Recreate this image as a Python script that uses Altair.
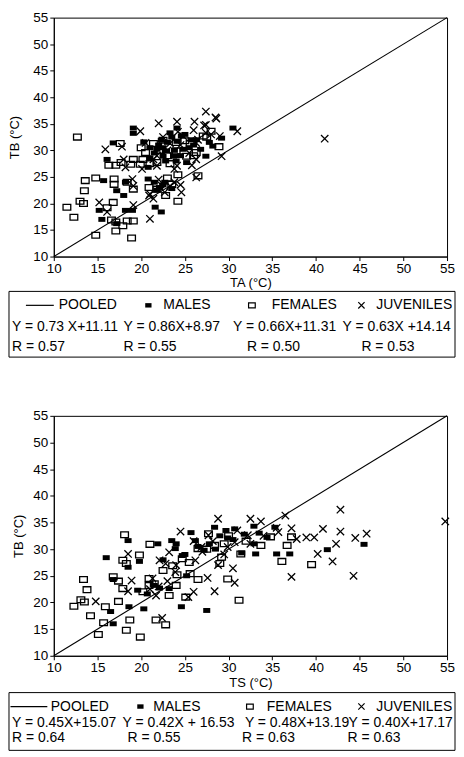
import altair as alt
import pandas as pd

# ---------------- Panel A : TB vs TA ----------------
a_male_x = [16.8, 19.1, 19.1, 16.1, 15.7, 15.2, 15.5, 17.2, 17.2, 18.2, 18.0, 18.2, 19.0, 20.8, 20.8,
            21.6, 22.3, 22.1, 22.7, 21.0, 21.8, 23.3, 24.1, 24.1, 24.8, 22.9, 25.2, 26.3, 27.4, 28.2,
            29.2, 30.5, 23.7, 22.5, 25.7, 24.6, 20.3, 22.3,
            22.5, 23.0, 23.8, 24.5, 25.5, 21.5, 22.0, 23.5, 26.0, 26.8, 24.0, 21.0, 22.8, 25.0, 27.8,
            21.8, 22.5, 23.5, 21.5]
a_male_y = [31.4, 34.2, 33.2, 28.3, 24.3, 18.7, 17.0, 16.2, 22.4, 24.0, 21.5, 18.7, 18.7, 26.8, 24.6,
            19.3, 18.4, 23.0, 24.0, 28.6, 30.2, 33.3, 34.2, 31.7, 30.2, 29.9, 27.7, 32.0, 28.9, 30.8,
            32.3, 34.2, 28.9, 28.9, 32.0, 32.7, 31.6, 31.9,
            30.5, 31.5, 30.0, 29.0, 30.5, 29.5, 31.0, 32.5, 31.0, 30.2, 28.0, 30.5, 28.0, 33.0, 31.5,
            22.5, 23.5, 22.8, 24.0]
a_fem_x = [12.7, 14.8, 13.6, 13.5, 13.0, 13.4, 11.5, 12.3, 14.8, 16.9, 16.9, 17.1, 16.3, 16.8, 16.1,
           16.6, 17.1, 17.1, 17.9, 18.4, 19.1, 18.9, 17.6, 18.8, 17.7, 19.1, 18.4, 19.1, 20.2, 20.5,
           19.9, 21.8, 23.3, 24.0, 25.2, 24.2, 24.2, 26.5, 26.3, 28.0, 28.9, 22.5, 21.4, 21.8, 23.5,
           25.6, 27.1, 20.9,
           22.0, 24.0, 25.0, 26.0, 23.0, 27.5, 21.0, 20.0, 22.8, 23.0]
a_fem_y = [32.5, 24.8, 24.3, 22.4, 20.4, 20.0, 19.3, 17.4, 14.0, 24.6, 23.6, 27.2, 27.2, 20.2, 19.2,
           16.9, 14.8, 16.5, 15.8, 16.7, 16.7, 13.5, 31.3, 27.4, 27.7, 28.3, 24.0, 22.7, 28.3, 29.6,
           27.4, 27.7, 27.5, 29.9, 28.9, 25.4, 20.4, 25.2, 29.6, 33.6, 30.7, 31.9, 31.3, 22.7, 23.6,
           31.3, 32.7, 23.0,
           30.0, 31.5, 31.8, 29.0, 29.0, 32.5, 27.5, 30.5, 21.5, 24.8]
a_juv_x = [15.9, 15.2, 16.1, 17.8, 18.0, 18.2, 19.0, 19.1, 19.9, 20.1, 21.0, 22.0, 24.1, 26.1, 27.4,
           27.4, 28.5, 29.0, 29.2, 31.0, 24.6, 26.3, 41.0, 22.7, 23.3, 21.4, 23.3, 24.8, 26.3, 27.4,
           21.4, 20.5, 21.8, 24.1, 20.9, 22.2, 26.3, 19.1,
           28.6, 27.2, 26.0, 23.0, 24.5, 25.5, 22.5, 26.5, 21.8, 24.2, 28.0, 23.8, 25.8,
           22.0, 23.8, 21.0, 24.5]
a_juv_y = [30.2, 20.2, 18.4, 30.7, 28.3, 26.8, 24.6, 19.7, 33.6, 26.5, 17.1, 35.1, 35.4, 35.4, 37.3,
           34.8, 36.2, 32.7, 28.9, 33.6, 22.1, 24.9, 32.2, 22.1, 23.3, 20.9, 31.3, 32.7, 31.4, 33.3,
           28.3, 31.4, 27.1, 27.1, 21.5, 23.6, 28.3, 23.3,
           36.0, 34.7, 33.8, 30.0, 31.0, 29.5, 32.5, 32.0, 29.0, 33.5, 33.0, 26.5, 27.2,
           24.5, 24.0, 21.8, 23.5]

# ---------------- Panel B : TB vs TS ----------------
b_male_x = [18.5, 18.5, 16.0, 19.8, 21.9, 16.8, 16.5, 16.8, 18.6, 19.6, 20.3, 20.7, 21.5, 22.1, 23.2,
            24.6, 27.5, 23.5, 24.7, 25.2, 25.7, 26.2, 27.2, 28.4, 29.7, 29.9, 31.5, 32.9, 32.9, 33.1,
            34.4, 35.3, 35.5, 37.0, 41.3, 45.5, 23.9, 30.7,
            26.5, 27.8, 29.0, 30.5, 31.8, 25.0, 24.0, 28.5, 33.5, 22.5]
b_male_y = [31.6, 26.6, 28.4, 27.7, 31.0, 24.3, 18.3, 16.0, 19.2, 22.3, 18.8, 21.6, 23.2, 22.7, 22.6,
            19.2, 18.5, 31.6, 28.8, 25.0, 33.1, 31.6, 29.8, 34.1, 33.5, 32.1, 29.3, 34.3, 31.0, 29.1,
            32.2, 34.1, 29.1, 29.1, 29.9, 30.9, 30.1, 33.8,
            30.5, 31.0, 32.5, 31.8, 32.8, 29.0, 31.0, 30.0, 33.0, 28.0]
b_fem_x = [18.1, 17.9, 18.3, 19.8, 21.0, 16.8, 17.4, 13.4, 13.8, 13.1, 13.5, 12.3, 14.2, 15.9, 17.4,
           17.9, 15.7, 15.1, 18.3, 18.7, 19.9, 21.7, 22.8, 20.9, 20.9, 20.2, 23.6, 24.1, 24.0, 25.1,
           23.2, 26.5, 25.6, 29.2, 29.0, 29.9, 31.2, 31.4, 36.1, 36.7, 39.5, 37.2, 27.7, 26.5, 28.4,
           24.7, 33.7, 34.8,
           27.5, 30.0, 32.0, 25.5, 21.5, 22.5, 29.5]
b_fem_y = [32.7, 27.9, 27.3, 28.9, 30.9, 24.8, 24.0, 24.3, 22.4, 20.5, 20.1, 19.3, 17.5, 19.2, 20.2,
           22.6, 16.2, 14.0, 14.8, 16.7, 13.5, 16.7, 15.8, 24.5, 23.2, 22.0, 26.9, 25.2, 23.2, 21.0,
           21.3, 24.3, 25.4, 28.5, 27.3, 24.4, 20.4, 29.1, 27.7, 30.7, 27.1, 32.3, 32.9, 30.1, 30.7,
           28.2, 30.7, 32.3,
           30.0, 32.5, 31.5, 27.5, 23.5, 26.0, 31.0]
b_juv_x = [14.8, 18.5, 18.9, 18.5, 22.1, 21.7, 22.4, 22.8, 24.5, 23.2, 26.0, 25.4, 26.2, 27.6, 28.4,
           28.8, 28.8, 30.5, 30.7, 32.5, 33.7, 36.5, 37.2, 37.2, 35.7, 37.8, 38.9, 39.8, 40.2, 40.8,
           41.9, 42.3, 42.8, 42.8, 44.5, 44.3, 45.8, 54.8, 30.7, 32.2, 27.7, 26.9, 29.9, 23.9, 21.3,
           27.0, 28.2, 29.5, 31.0, 32.5, 34.0, 35.5, 26.0, 24.0, 22.0, 21.0, 23.0]
b_juv_y = [20.2, 29.1, 24.1, 22.1, 27.9, 21.3, 17.1, 27.3, 33.3, 29.4, 22.0, 21.0, 27.9, 24.6, 22.1,
           35.7, 27.0, 26.4, 23.7, 35.7, 35.2, 36.3, 33.9, 24.8, 33.2, 31.9, 32.2, 32.2, 29.1, 33.8,
           27.7, 31.0, 37.4, 33.3, 32.1, 25.0, 32.9, 35.2, 31.3, 32.6, 32.6, 30.4, 30.4, 25.7, 24.5,
           29.5, 31.5, 29.0, 33.5, 31.0, 32.5, 34.0, 31.5, 27.0, 23.0, 22.5, 24.0]

AXIS_TICKS = [10, 15, 20, 25, 30, 35, 40, 45, 50, 55]
GROUP_LABELS = ["POOLED", "MALES", "FEMALES", "JUVENILES"]
A_EQS = ["Y = 0.73 X+11.11", "Y = 0.86X+8.97", "Y = 0.66X+11.31", "Y = 0.63X +14.14"]
A_RS = ["R = 0.57", "R = 0.55", "R = 0.50", "R = 0.53"]
B_EQS = ["Y = 0.45X+15.07", "Y = 0.42X + 16.53", "Y = 0.48X+13.19", "Y = 0.40X+17.17"]
B_RS = ["R = 0.64", "R = 0.55", "R = 0.63", "R = 0.63"]

# ---------------- styles / layout ----------------
FONT = "Liberation Sans"
SQ_FILLED = "M-1,-0.7H1V0.7H-1Z"
SQ_OPEN = "M-1,-0.75H1V0.75H-1Z"
XMARK = "M-1,-1L1,1M-1,1L1,-1"
HLINE = "M-1,0H1"
BOX_LEFT = -45      # legend frame reaches left past the plot origin, to the page margin
BOX_RIGHT = 403


def scatter(mx, my, fx, fy, jx, jy, xtitle, w, h, ypad):
    df = pd.DataFrame({
        "x": mx + fx + jx,
        "y": my + fy + jy,
        "g": ["M"] * len(mx) + ["F"] * len(fx) + ["J"] * len(jx),
    })
    diag_df = pd.DataFrame({"x": [AXIS_TICKS[0], AXIS_TICKS[-1]], "y": [AXIS_TICKS[0], AXIS_TICKS[-1]]})
    xs = alt.Scale(domain=[10, 55], nice=False, zero=False)
    ys = alt.Scale(domain=[10, 55], nice=False, zero=False)
    common = dict(grid=False, domainColor="black", tickColor="black", tickSize=4,
                  labelFont=FONT, labelFontSize=13.5, labelColor="black",
                  titleFont=FONT, titleFontSize=13, titleFontWeight="normal", titleColor="black",
                  labelFlush=False)
    xax = alt.Axis(values=AXIS_TICKS, title=xtitle, labelPadding=1, titlePadding=2, **common)
    yax = alt.Axis(values=AXIS_TICKS, title="TB (°C)", labelPadding=2, titlePadding=ypad, **common)
    X = alt.X("x:Q", scale=xs, axis=xax)
    Y = alt.Y("y:Q", scale=ys, axis=yax)
    base = alt.Chart(df)
    diag = alt.Chart(diag_df).mark_line(color="black", strokeWidth=1.1).encode(x=X, y=Y)
    fem = base.transform_filter(alt.datum.g == "F").mark_point(
        shape=SQ_OPEN, filled=False, color="black", strokeWidth=1.3, size=60, opacity=1).encode(x=X, y=Y)
    juv = base.transform_filter(alt.datum.g == "J").mark_point(
        shape=XMARK, filled=False, color="black", strokeWidth=1.3, size=55, opacity=1).encode(x=X, y=Y)
    male = base.transform_filter(alt.datum.g == "M").mark_point(
        shape=SQ_FILLED, filled=True, color="black", size=50, opacity=1).encode(x=X, y=Y)
    return alt.layer(diag, fem, juv, male).properties(
        width=w, height=h, view=alt.ViewBackground(stroke="black", strokeWidth=1))


def legend(eqs, rs, sym_x, line_len, lab_x, eq_x, r_x, row_y, h):
    cols = [0, 1, 2, 3]
    ys = alt.Scale(domain=[0, 1, 2], range=row_y)

    def Yr():
        return alt.Y("r:Q", scale=ys, axis=None)

    def xq(rng):
        return alt.X("c:Q", scale=alt.Scale(domain=cols, range=rng), axis=None)

    sym_df = pd.DataFrame({"c": cols, "r": [0, 0, 0, 0], "k": ["P", "M", "F", "J"]})
    lab_df = pd.DataFrame({"c": cols, "r": [0, 0, 0, 0], "t": GROUP_LABELS})
    eq_df = pd.DataFrame({"c": cols, "r": [1, 1, 1, 1], "t": eqs})
    r_df = pd.DataFrame({"c": cols, "r": [2, 2, 2, 2], "t": rs})

    frame = alt.Chart(pd.DataFrame({"k": ["box"]})).mark_rect(
        fill="white", fillOpacity=0, stroke="black", strokeWidth=1
    ).encode(x=alt.value(BOX_LEFT), x2=alt.value(BOX_RIGHT), y=alt.value(0), y2=alt.value(h))

    txt = dict(align="left", baseline="middle", font=FONT, fontSize=14, color="black")
    line = alt.Chart(sym_df).transform_filter(alt.datum.k == "P").mark_point(
        shape=HLINE, filled=False, color="black", strokeWidth=1.2, size=line_len ** 2, opacity=1
    ).encode(x=xq(sym_x), y=Yr())
    msym = alt.Chart(sym_df).transform_filter(alt.datum.k == "M").mark_point(
        shape=SQ_FILLED, filled=True, color="black", size=40, opacity=1).encode(x=xq(sym_x), y=Yr())
    fsym = alt.Chart(sym_df).transform_filter(alt.datum.k == "F").mark_point(
        shape=SQ_OPEN, filled=False, color="black", strokeWidth=1.2, size=45, opacity=1).encode(x=xq(sym_x), y=Yr())
    jsym = alt.Chart(sym_df).transform_filter(alt.datum.k == "J").mark_point(
        shape=XMARK, filled=False, color="black", strokeWidth=1.2, size=40, opacity=1).encode(x=xq(sym_x), y=Yr())
    labs = alt.Chart(lab_df).mark_text(**txt).encode(x=xq(lab_x), y=Yr(), text="t:N")
    eqt = alt.Chart(eq_df).mark_text(**txt).encode(x=xq(eq_x), y=Yr(), text="t:N")
    rt = alt.Chart(r_df).mark_text(**txt).encode(x=xq(r_x), y=Yr(), text="t:N")
    return alt.layer(frame, line, msym, fsym, jsym, labs, eqt, rt).resolve_scale(x="independent").properties(
        width=BOX_RIGHT, height=h, view=alt.ViewBackground(strokeOpacity=0))


top = scatter(a_male_x, a_male_y, a_fem_x, a_fem_y, a_juv_x, a_juv_y, "TA (°C)", 395, 240, 11)
top_leg = legend(A_EQS, A_RS,
                 sym_x=[-14, 95, 199, 309], line_len=28,
                 lab_x=[5, 110, 219, 324],
                 eq_x=[-42, 70, 180, 290],
                 r_x=[-42, 70, 194, 309],
                 row_y=[14, 36, 56], h=66)
bot = scatter(b_male_x, b_male_y, b_fem_x, b_fem_y, b_juv_x, b_juv_y, "TS (°C)", 395, 241, 7)
bot_leg = legend(B_EQS, B_RS,
                 sym_x=[-25, 87, 197, 309], line_len=37,
                 lab_x=[-3, 100, 214, 324],
                 eq_x=[-42, 69, 192, 296],
                 r_x=[-42, 74, 189, 295],
                 row_y=[14, 31, 46], h=58)

part_a = alt.vconcat(top, top_leg, spacing=0)
part_b = alt.vconcat(bot, bot_leg, spacing=2)

chart = alt.vconcat(part_a, part_b, spacing=50).properties(
    padding=0
).configure(background="white")

chart.save("out.html", embed_options={"renderer": "svg", "actions": False})
